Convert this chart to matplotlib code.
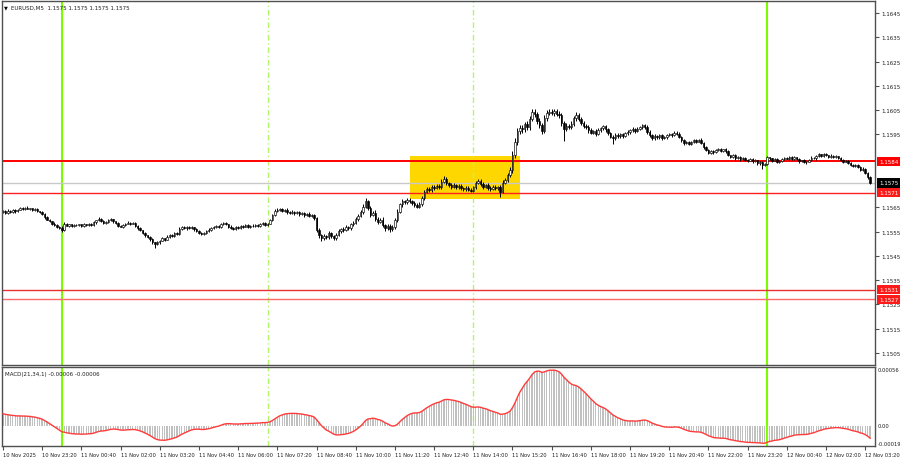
import numpy as np
import matplotlib
matplotlib.use("Agg")
import matplotlib.pyplot as plt
import matplotlib.transforms as mtransforms
from matplotlib.patches import Rectangle
from matplotlib import font_manager as fm

# ---- font: MT4 labels are narrow, use a narrow face when one is installed ----
_narrow = [f for f in fm.fontManager.ttflist
           if ("Narrow" in f.name or "Condensed" in f.name
               or f.stretch in ("condensed", "semi-condensed", "extra-condensed"))
           and f.style == "normal" and f.weight in (400, "normal", "regular")]
if _narrow:
    FP = fm.FontProperties(fname=_narrow[0].fname)
else:
    FP = fm.FontProperties(family="Liberation Sans")
FS = 4.4
FS_SMALL = 4.15

# ---- data: EURUSD M5, closes in pips above BASE ----
BASE = 1.1500
PIP = 0.0001
START = np.datetime64("2025-11-10T22:00")
open_first = 63.0

close_pips = [
    63.4, 62.6, 63.5, 63.0, 63.8, 63.3, 64.0, 64.6, 64.2, 64.8, 64.3, 64.5, 63.9, 64.2, 63.4, 63.0,
    62.4, 60.8, 59.9, 59.2, 58.3, 57.6, 57.0, 56.5, 55.6, 58.2, 57.4, 57.9, 57.2, 57.8, 57.5, 57.9,
    57.3, 58.0, 57.6, 58.2, 57.7, 58.8, 59.6, 60.2, 59.3, 58.5, 58.9, 59.7, 60.1, 59.2, 58.4, 57.3,
    57.0, 57.6, 58.3, 58.7, 58.2, 58.5, 57.4, 56.3, 55.5, 54.6, 53.4, 52.9, 51.8, 50.6, 49.8, 50.5,
    51.3, 52.2, 51.7, 52.9, 53.6, 53.2, 54.4, 54.1, 56.2, 56.8, 56.3, 57.0, 56.5, 56.8, 55.9, 55.2,
    54.6, 54.0, 54.3, 55.4, 55.8, 56.3, 56.9, 57.2, 56.8, 58.1, 58.6, 57.9, 57.0, 56.4, 56.0, 56.7,
    56.4, 57.3, 57.0, 57.6, 56.9, 57.4, 57.1, 57.8, 57.3, 57.9, 58.4, 57.6, 58.3, 59.6, 61.8, 63.4,
    63.9, 64.3, 63.6, 63.9, 63.1, 62.7, 63.2, 62.5, 62.9, 62.2, 62.6, 61.8, 62.3, 61.4, 61.9, 60.4,
    55.6, 53.4, 52.3, 53.1, 52.6, 54.5, 53.0, 52.4, 53.5, 55.2, 56.1, 55.6, 56.8, 56.3, 57.9, 58.6,
    60.1, 61.6, 62.9, 65.2, 67.4, 64.8, 61.9, 62.7, 60.3, 59.1, 59.9, 57.6, 56.4, 57.3, 55.9, 56.8,
    59.8, 63.1, 66.2, 67.6, 67.0, 68.1, 67.4, 66.8, 65.9, 65.3, 66.4, 69.0, 71.3, 72.6, 72.1, 73.4,
    73.0, 73.8, 73.2, 75.4, 76.6, 74.9, 74.2, 73.5, 74.1, 73.3, 73.8, 72.9, 72.4, 73.1, 72.2, 71.9,
    73.2, 75.1, 76.0, 74.6, 73.4, 74.2, 73.1, 72.6, 73.5, 72.8, 73.3, 71.4, 75.2, 76.3, 78.1, 80.2,
    86.5, 91.8, 96.4, 97.8, 97.1, 99.2, 98.0, 101.4, 104.2, 103.3, 100.6, 98.9, 96.6, 101.8, 103.9, 104.4,
    103.8, 104.5, 103.6, 102.9, 99.8, 97.3, 98.6, 98.1, 99.4, 101.8, 103.2, 101.5, 99.7, 98.6, 97.9, 96.8,
    95.8, 96.4, 95.3, 96.9, 97.6, 98.3, 97.1, 95.4, 94.1, 93.6, 94.8, 94.2, 95.1, 94.5, 95.4, 95.9,
    96.7, 97.2, 96.5, 97.4, 97.9, 98.8, 98.1, 96.2, 94.6, 93.4, 94.3, 93.8, 94.6, 93.5, 93.9, 94.7,
    95.2, 94.6, 95.8, 95.3, 94.1, 92.7, 91.4, 91.9, 91.2, 92.0, 92.6, 92.1, 92.8, 91.5, 89.7, 88.6,
    87.5, 88.3, 87.6, 88.5, 89.1, 88.2, 88.9, 88.0, 86.4, 85.9, 86.6, 85.2, 85.8, 84.7, 85.3, 84.6,
    84.2, 84.8, 83.9, 84.3, 83.2, 83.6, 82.4, 82.9, 85.6, 85.1, 84.2, 84.8, 83.6, 84.0, 84.9, 85.4,
    85.0, 85.7, 84.9, 85.6, 84.8, 83.9, 84.3, 83.5, 83.8, 84.4, 85.5, 85.1, 86.2, 86.8, 86.1, 87.0,
    86.4, 85.8, 86.3, 85.6, 86.0, 85.3, 84.4, 83.8, 84.2, 83.2, 82.4, 81.9, 82.6, 81.5, 80.4, 80.9,
    79.2, 77.4, 75.0,
]

# wick length above / below the body, pips
wick_up = [
    0.4, 0.3, 0.6, 0.2, 0.5, 0.4, 0.3, 0.5, 0.4, 0.3, 0.6, 0.2, 0.4, 0.3, 0.5, 0.2,
    0.3, 0.2, 0.4, 0.3, 0.2, 0.5, 0.3, 0.2, 0.6, 0.8, 0.3, 0.4, 0.2, 0.5, 0.3, 0.4,
    0.3, 0.5, 0.2, 0.4, 0.3, 0.5, 0.3, 0.6, 0.2, 0.4, 0.5, 0.3, 0.4, 0.2, 0.3, 0.4,
    0.5, 0.3, 0.4, 0.6, 0.2, 0.4, 0.3, 0.2, 0.5, 0.3, 0.4, 0.2, 0.3, 0.4, 0.2, 0.6,
    0.4, 0.5, 0.3, 0.6, 0.4, 0.3, 0.5, 0.4, 0.6, 0.3, 0.5, 0.4, 0.3, 0.5, 0.2, 0.4,
    0.3, 0.4, 0.5, 0.3, 0.6, 0.4, 0.3, 0.5, 0.4, 0.6, 0.3, 0.4, 0.2, 0.5, 0.3, 0.4,
    0.4, 0.5, 0.3, 0.4, 0.6, 0.3, 0.5, 0.4, 0.3, 0.5, 0.6, 0.4, 0.3, 0.7, 0.6, 0.8,
    0.7, 0.5, 0.6, 0.4, 0.8, 0.5, 0.6, 0.4, 0.7, 0.5, 0.6, 0.4, 0.5, 0.6, 0.4, 0.5,
    0.6, 0.8, 0.5, 0.7, 0.6, 0.9, 0.5, 0.6, 0.8, 0.7, 0.5, 0.6, 0.8, 0.5, 0.7, 0.6,
    0.8, 0.7, 0.9, 1.0, 1.4, 0.8, 0.9, 0.7, 1.0, 0.8, 0.6, 0.9, 0.7, 0.8, 0.6, 0.7,
    0.9, 1.0, 0.7, 0.8, 0.6, 0.9, 0.7, 0.8, 0.6, 0.7, 0.9, 0.8, 0.7, 0.6, 0.8, 0.7,
    0.6, 0.8, 0.7, 1.2, 1.4, 0.7, 0.6, 0.8, 0.7, 0.6, 0.8, 0.7, 0.6, 0.8, 0.5, 0.7,
    0.7, 0.9, 0.8, 0.6, 0.7, 0.5, 0.8, 0.6, 0.7, 0.5, 0.6, 0.8, 0.9, 0.8, 1.0, 1.2,
    1.5, 1.6, 1.2, 1.0, 1.3, 0.9, 1.4, 1.1, 1.3, 1.2, 1.0, 1.1, 0.9, 1.2, 1.0, 0.9,
    1.0, 0.8, 0.9, 1.1, 0.8, 0.9, 1.0, 0.8, 1.1, 0.9, 1.0, 0.8, 0.9, 1.0, 0.7, 0.8,
    0.8, 0.6, 0.7, 0.9, 0.6, 0.8, 0.7, 0.6, 0.8, 0.7, 0.6, 0.8, 0.7, 0.6, 0.7, 0.8,
    0.6, 0.7, 0.5, 0.8, 0.6, 0.7, 0.5, 0.6, 0.8, 0.5, 0.7, 0.6, 0.5, 0.7, 0.6, 0.5,
    0.6, 0.5, 0.7, 0.5, 0.6, 0.4, 0.5, 0.6, 0.4, 0.5, 0.6, 0.4, 0.5, 0.6, 0.4, 0.5,
    0.4, 0.5, 0.3, 0.6, 0.4, 0.5, 0.3, 0.4, 0.5, 0.3, 0.4, 0.5, 0.3, 0.4, 0.3, 0.5,
    0.3, 0.4, 0.3, 0.5, 0.3, 0.4, 0.3, 0.4, 0.6, 0.3, 0.4, 0.3, 0.4, 0.3, 0.5, 0.4,
    0.3, 0.4, 0.3, 0.5, 0.3, 0.4, 0.3, 0.4, 0.3, 0.4, 0.5, 0.3, 0.4, 0.6, 0.3, 0.5,
    0.4, 0.3, 0.5, 0.3, 0.4, 0.3, 0.4, 0.5, 0.3, 0.4, 0.3, 0.5, 0.4, 0.3, 0.4, 0.5,
    0.4, 0.5, 0.3,
]
wick_dn = [
    0.3, 0.5, 0.2, 0.4, 0.3, 0.5, 0.4, 0.2, 0.3, 0.5, 0.2, 0.4, 0.3, 0.5, 0.4, 0.3,
    0.4, 0.5, 0.3, 0.4, 0.5, 0.3, 0.4, 0.6, 0.9, 0.4, 0.3, 0.5, 0.4, 0.3, 0.4, 0.3,
    0.4, 0.3, 0.5, 0.2, 0.4, 0.3, 0.5, 0.3, 0.4, 0.6, 0.3, 0.4, 0.2, 0.5, 0.4, 0.5,
    0.3, 0.5, 0.4, 0.3, 0.5, 0.3, 0.4, 0.6, 0.4, 0.5, 0.6, 0.4, 0.5, 0.6, 1.6, 0.5,
    0.5, 0.4, 0.6, 0.3, 0.5, 0.4, 0.3, 0.5, 0.4, 0.6, 0.3, 0.5, 0.4, 0.3, 0.5, 0.4,
    0.5, 0.6, 0.4, 0.3, 0.5, 0.4, 0.3, 0.5, 0.4, 0.3, 0.5, 0.4, 0.6, 0.3, 0.5, 0.4,
    0.3, 0.4, 0.5, 0.3, 0.4, 0.5, 0.3, 0.4, 0.5, 0.3, 0.4, 0.5, 0.3, 0.4, 0.3, 0.5,
    0.5, 0.6, 0.4, 0.5, 0.7, 0.4, 0.6, 0.5, 0.4, 0.6, 0.5, 0.7, 0.4, 0.6, 0.5, 0.7,
    0.8, 0.9, 1.0, 0.6, 0.8, 0.7, 0.6, 0.9, 0.7, 0.5, 0.6, 0.8, 0.5, 0.7, 0.6, 0.5,
    0.6, 0.7, 0.5, 0.8, 0.7, 0.9, 1.0, 0.7, 0.8, 0.9, 0.7, 0.8, 1.0, 0.7, 0.9, 0.8,
    0.8, 0.7, 0.6, 0.9, 0.7, 0.8, 0.6, 0.7, 0.9, 0.8, 0.6, 0.7, 0.8, 0.6, 0.7, 0.9,
    0.7, 0.6, 0.8, 0.7, 0.6, 0.9, 0.7, 0.8, 0.6, 0.7, 0.9, 0.6, 0.8, 0.7, 0.6, 0.8,
    0.6, 0.7, 0.5, 0.8, 0.7, 0.6, 0.8, 0.7, 0.6, 0.8, 0.7, 2.1, 0.6, 0.7, 0.8, 0.6,
    0.9, 1.1, 1.0, 1.2, 1.4, 1.0, 1.3, 1.1, 0.9, 1.2, 1.1, 1.4, 1.3, 1.0, 1.2, 0.9,
    0.9, 1.0, 0.8, 1.1, 1.3, 5.0, 0.9, 1.0, 0.8, 0.9, 1.1, 0.8, 1.0, 0.9, 0.8, 1.0,
    0.8, 0.7, 0.9, 0.6, 0.8, 0.7, 0.9, 0.8, 0.7, 2.5, 0.8, 0.6, 0.7, 0.8, 0.6, 0.7,
    0.6, 0.7, 0.8, 0.5, 0.6, 0.7, 0.8, 1.0, 0.7, 0.6, 0.8, 0.7, 0.6, 0.8, 0.5, 0.6,
    0.5, 0.6, 0.4, 0.7, 0.5, 0.6, 0.8, 0.5, 0.6, 0.4, 0.5, 0.6, 0.4, 0.5, 0.7, 0.5,
    0.5, 0.4, 0.6, 0.3, 0.5, 0.4, 0.6, 0.5, 0.3, 0.4, 0.5, 0.6, 0.4, 0.5, 0.3, 0.4,
    0.4, 0.3, 0.5, 0.4, 0.6, 0.8, 1.6, 0.4, 0.3, 0.5, 0.4, 0.3, 0.5, 0.4, 0.3, 0.4,
    0.3, 0.4, 0.5, 0.3, 0.4, 0.5, 0.3, 0.4, 0.5, 0.3, 0.4, 0.3, 0.5, 0.4, 0.3, 0.4,
    0.4, 0.5, 0.3, 0.4, 0.5, 0.3, 0.4, 0.5, 0.3, 0.5, 0.4, 0.5, 0.3, 0.4, 0.6, 0.5,
    0.5, 0.6, 0.4,
]

# MACD(21,34,1) state carried in from before the first visible bar
MACD_FAST, MACD_SLOW = 21, 34
ema_seed_fast = 62.4   # pips
ema_seed_slow = 61.2

time_labels = [
    "10 Nov 2025", "10 Nov 23:20", "11 Nov 00:40", "11 Nov 02:00", "11 Nov 03:20",
    "11 Nov 04:40", "11 Nov 06:00", "11 Nov 07:20", "11 Nov 08:40", "11 Nov 10:00",
    "11 Nov 11:20", "11 Nov 12:40", "11 Nov 14:00", "11 Nov 15:20", "11 Nov 16:40",
    "11 Nov 18:00", "11 Nov 19:20", "11 Nov 20:40", "11 Nov 22:00", "11 Nov 23:20",
    "12 Nov 00:40", "12 Nov 02:00", "12 Nov 03:20",
]

day_breaks = ["2025-11-11T00:00", "2025-11-12T00:00"]
session_marks = ["2025-11-11T07:00", "2025-11-11T14:00"]
box_times = ["2025-11-11T11:50", "2025-11-11T15:35"]
box_prices = [1.15684, 1.15861]

strong_level = 1.1584
levels = [1.1571, 1.1531, 1.1527]
level_colors = ["#ff2020", "#e83030", "#ff6a6a"]
last_price = 1.1575

# scale labels that stay visible (1.1575 and 1.1585 sit under the price tags)
price_ticks = [1.1505, 1.1515, 1.1525, 1.1535, 1.1545, 1.1555, 1.1565,
               1.1595, 1.1605, 1.1615, 1.1625, 1.1635, 1.1645]
macd_max, macd_min = 0.00056, -0.00019

# ---- derived series ----
n = len(close_pips)
assert len(wick_up) == n and len(wick_dn) == n
close = BASE + np.array(close_pips) * PIP
open_ = np.concatenate([[BASE + open_first * PIP], close[:-1]])
high = np.maximum(open_, close) + np.array(wick_up) * PIP
low = np.minimum(open_, close) - np.array(wick_dn) * PIP
idx = np.arange(n)
times = START + np.arange(n) * np.timedelta64(5, "m")


def bar_at(t):
    return int(np.searchsorted(times, np.datetime64(t)))


a_f = 2.0 / (MACD_FAST + 1)
a_s = 2.0 / (MACD_SLOW + 1)
ef = BASE + ema_seed_fast * PIP
es = BASE + ema_seed_slow * PIP
macd = np.empty(n)
for i, c in enumerate(close):
    ef += a_f * (c - ef)
    es += a_s * (c - es)
    macd[i] = ef - es

# ---- figure ----
W, H = 900, 460
fig = plt.figure(figsize=(W / 100, H / 100), dpi=100)
fig.patch.set_facecolor("white")


def px_axes(x0, y0, x1, y1):
    return fig.add_axes([x0 / W, 1 - y1 / H, (x1 - x0) / W, (y1 - y0) / H])


ax = px_axes(2, 2, 875, 366)
ax2 = px_axes(2, 368, 875, 447)

EDGE = "#505050"
TXT = "#202020"
for a in (ax, ax2):
    a.set_facecolor("white")
    for s in a.spines.values():
        s.set_color(EDGE)
        s.set_linewidth(1.0)
    a.set_xlim(-0.4, 356)

# session / day lines
for t in day_breaks:
    for a in (ax, ax2):
        a.axvline(bar_at(t), color="#7cfc00", lw=1.5, zorder=1)
for t in session_marks:
    for a in (ax, ax2):
        a.axvline(bar_at(t), color="#b4f56e", lw=1.0, ls=(0, (4, 2, 1, 2)), zorder=1)

# yellow range box
b0, b1 = bar_at(box_times[0]), bar_at(box_times[1])
ax.add_patch(Rectangle((b0, box_prices[0]), b1 - b0, box_prices[1] - box_prices[0],
                       facecolor="#ffd700", edgecolor="none", zorder=0.5))

# horizontal levels
ax.axhline(last_price, color="#c8c8c8", lw=1.0, zorder=1.5)
ax.axhline(strong_level, color="#ff0000", lw=1.4, zorder=1.6)
for lv, col in zip(levels, level_colors):
    ax.axhline(lv, color=col, lw=1.0, zorder=1.6)

# candles
ax.vlines(idx, low, high, color="black", lw=0.7, zorder=2)
body = np.maximum(np.abs(close - open_), 0.06 * PIP)
up = close >= open_
ax.bar(idx[up], body[up], bottom=open_[up], width=0.6, color="white",
       edgecolor="black", linewidth=0.45, zorder=2.1)
ax.bar(idx[~up], body[~up], bottom=np.minimum(open_, close)[~up], width=0.6,
       color="black", edgecolor="black", linewidth=0.45, zorder=2.1)

ax.set_ylim(1.1500, 1.1650)
ax.yaxis.tick_right()
ax.set_yticks(price_ticks)
ax.set_yticklabels([f"{p:.4f}" for p in price_ticks])
ax.tick_params(axis="y", right=True, left=False, length=3, width=0.8, color=EDGE,
               labelcolor=TXT, pad=1.5)
for lab in ax.get_yticklabels():
    lab.set_fontproperties(FP)
    lab.set_fontsize(FS)
ax.set_xticks([])

# price tags on the right scale
tr = mtransforms.blended_transform_factory(ax.transAxes, ax.transData)


def tag(y, fc):
    t = ax.text(1.0045, y, f"{y:.4f}", transform=tr, ha="left", va="center",
                fontproperties=FP, color="white", clip_on=False, zorder=5,
                bbox=dict(boxstyle="square,pad=0.35", fc=fc, ec="none"))
    t.set_fontsize(FS)


tag(strong_level, "#ff0000")
tag(last_price, "black")
for lv in levels:
    tag(lv, "#ff1a1a")

# header
ax.text(0.0025, 0.984, "\u25bc", transform=ax.transAxes, fontsize=3.6, color="black",
        va="center", ha="left", family="DejaVu Sans")
hdr = ax.text(0.0105, 0.984,
              f"EURUSD,M5  {last_price:.4f} {last_price:.4f} {last_price:.4f} {last_price:.4f}",
              transform=ax.transAxes, fontproperties=FP, color=TXT, va="center", ha="left")
hdr.set_fontsize(FS)

# MACD panel
ax2.bar(idx, macd, width=0.55, color="#c0c0c0", zorder=2)
ax2.plot(idx, macd, color="#ff3b3b", lw=1.0, zorder=3)
ax2.set_ylim(macd_min, macd_max)
ax2.set_yticks([])
mt = ax2.text(0.004, 0.92, f"MACD({MACD_FAST},{MACD_SLOW},1) -0.00006 -0.00006",
              transform=ax2.transAxes, fontproperties=FP, color=TXT, va="center", ha="left")
mt.set_fontsize(FS)
tr2 = mtransforms.blended_transform_factory(ax2.transAxes, ax2.transData)
for val, txt, va in [(macd_max, f"{macd_max:.5f}", "top"), (0.0, "0.00", "center"),
                     (macd_min, f"{macd_min:.5f}", "bottom")]:
    t = ax2.text(1.003, val, txt, transform=tr2, fontproperties=FP, color=TXT,
                 va=va, ha="left", clip_on=False)
    t.set_fontsize(FS_SMALL)

ax2.set_xticks(np.arange(len(time_labels)) * 16)
ax2.set_xticklabels(time_labels)
ax2.tick_params(axis="x", length=3, width=0.8, color=EDGE, labelcolor=TXT, pad=1.5)
for lab in ax2.get_xticklabels():
    lab.set_fontproperties(FP)
    lab.set_fontsize(FS_SMALL)
    lab.set_ha("left")

fig.savefig("out.png", dpi=100, facecolor="white")
